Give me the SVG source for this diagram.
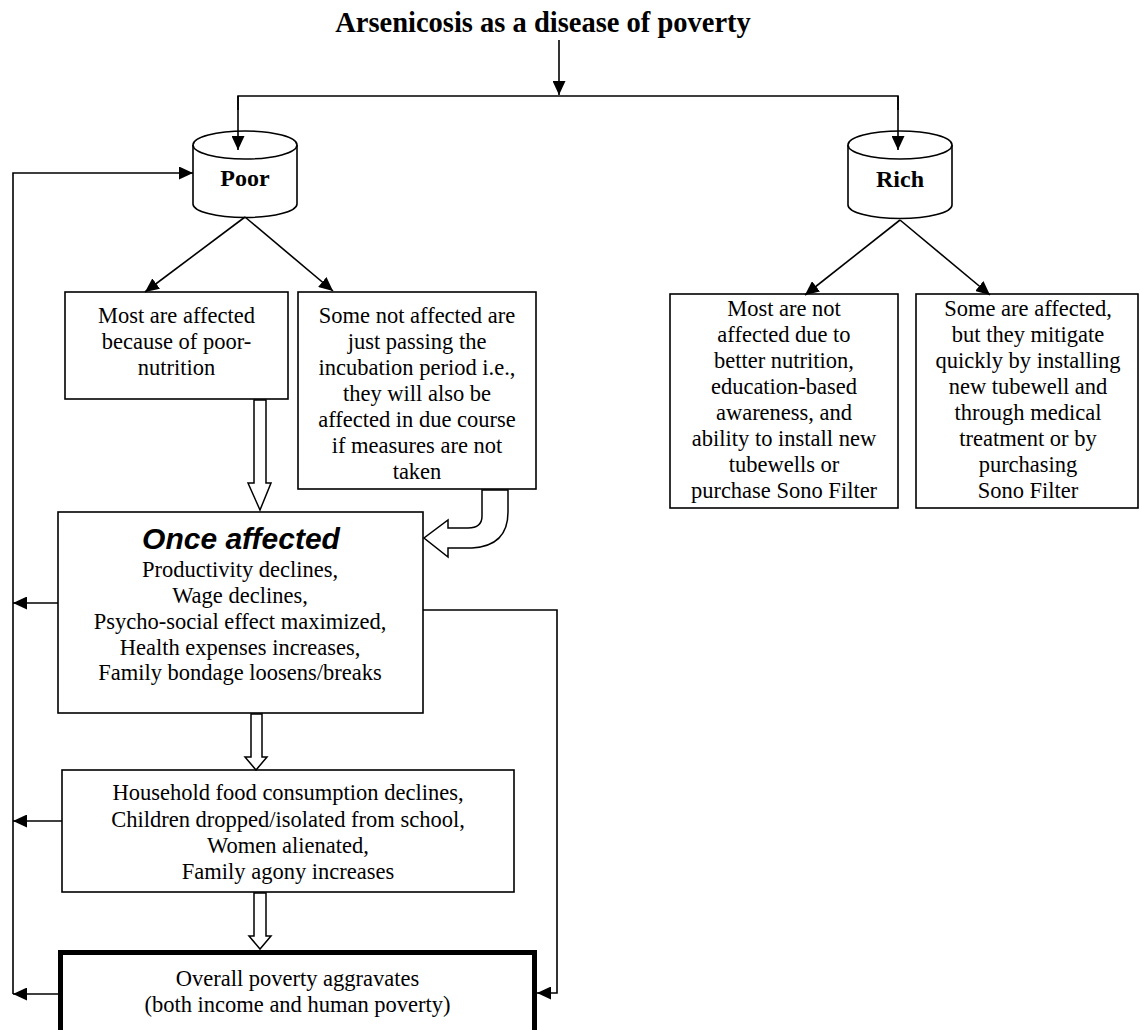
<svg xmlns="http://www.w3.org/2000/svg" width="1140" height="1030" viewBox="0 0 1140 1030">
<style>
.box{fill:#fff;stroke:#000;stroke-width:1.6}
.thick{fill:#fff;stroke:#000;stroke-width:5}
.ln{fill:none;stroke:#000;stroke-width:1.6}
.hollow{fill:#fff;stroke:#000;stroke-width:1.5;stroke-linejoin:miter}
.t{font-family:"Liberation Serif","Times New Roman",serif;font-size:22.5px;fill:#000;text-anchor:middle}
.b{font-family:"Liberation Serif","Times New Roman",serif;font-weight:bold;font-size:24px;fill:#000;text-anchor:middle}
.title{font-family:"Liberation Serif","Times New Roman",serif;font-weight:bold;font-size:28.5px;fill:#000;text-anchor:middle}
.h{font-family:"Liberation Sans",Arial,sans-serif;font-weight:bold;font-style:italic;font-size:30px;fill:#000;text-anchor:middle}
</style>
<defs>
<marker id="ah" markerUnits="userSpaceOnUse" markerWidth="15" markerHeight="13" refX="14" refY="6.5" orient="auto" viewBox="0 0 15 13">
<path d="M0,0 L14,6.5 L0,13 Z" fill="#000"/>
</marker>
</defs>
<rect width="1140" height="1030" fill="#fff"/>

<g id="title">
<text class="title" x="543" y="32">Arsenicosis as a disease of poverty</text>
</g>

<g id="poor">
<path class="box" d="M193,145 L193,204 A52,13.5 0 0 0 297,204 L297,145"/>
<ellipse class="box" cx="245" cy="145" rx="52" ry="14"/>
<text class="b" x="245" y="186">Poor</text>
</g>

<g id="rich">
<path class="box" d="M848,145 L848,205 A52,13.5 0 0 0 952,205 L952,145"/>
<ellipse class="box" cx="900" cy="145" rx="52" ry="14"/>
<text class="b" x="900" y="187">Rich</text>
</g>

<g id="most-affected">
<rect class="box" x="65" y="292" width="223" height="107"/>
<text class="t" x="176.5" y="323">Most are affected</text>
<text class="t" x="176.5" y="349">because of poor-</text>
<text class="t" x="176.5" y="375">nutrition</text>
</g>

<g id="some-not-affected">
<rect class="box" x="298" y="292" width="238" height="197"/>
<text class="t" x="417" y="323">Some not affected are</text>
<text class="t" x="417" y="349">just passing the</text>
<text class="t" x="417" y="375">incubation period i.e.,</text>
<text class="t" x="417" y="401">they will also be</text>
<text class="t" x="417" y="427">affected in due course</text>
<text class="t" x="417" y="453">if measures are not</text>
<text class="t" x="417" y="479">taken</text>
</g>

<g id="rich-most">
<rect class="box" x="670" y="294" width="228" height="214"/>
<text class="t" x="784" y="316">Most are not</text>
<text class="t" x="784" y="342">affected due to</text>
<text class="t" x="784" y="368">better nutrition,</text>
<text class="t" x="784" y="394">education-based</text>
<text class="t" x="784" y="420">awareness, and</text>
<text class="t" x="784" y="446">ability to install new</text>
<text class="t" x="784" y="472">tubewells or</text>
<text class="t" x="784" y="498">purchase Sono Filter</text>
</g>

<g id="rich-some">
<rect class="box" x="916" y="294" width="222" height="214"/>
<text class="t" x="1028" y="316">Some are affected,</text>
<text class="t" x="1028" y="342">but they mitigate</text>
<text class="t" x="1028" y="368">quickly by installing</text>
<text class="t" x="1028" y="394">new tubewell and</text>
<text class="t" x="1028" y="420">through medical</text>
<text class="t" x="1028" y="446">treatment or by</text>
<text class="t" x="1028" y="472">purchasing</text>
<text class="t" x="1028" y="498">Sono Filter</text>
</g>

<g id="once-affected">
<rect class="box" x="58" y="512" width="365" height="201"/>
<text class="h" x="241" y="549">Once affected</text>
<text class="t" x="240" y="577">Productivity declines,</text>
<text class="t" x="240" y="603">Wage declines,</text>
<text class="t" x="240" y="629">Psycho-social effect maximized,</text>
<text class="t" x="240" y="655">Health expenses increases,</text>
<text class="t" x="240" y="680">Family bondage loosens/breaks</text>
</g>

<g id="household">
<rect class="box" x="62" y="770" width="452" height="122"/>
<text class="t" x="288" y="800">Household food consumption declines,</text>
<text class="t" x="288" y="827">Children dropped/isolated from school,</text>
<text class="t" x="288" y="853">Women alienated,</text>
<text class="t" x="288" y="879">Family agony increases</text>
</g>

<g id="poverty">
<rect class="thick" x="60.5" y="952.5" width="474" height="90"/>
<text class="t" x="297.5" y="986">Overall poverty aggravates</text>
<text class="t" x="297.5" y="1012">(both income and human poverty)</text>
</g>

<g id="connectors">
<line class="ln" x1="559" y1="40" x2="559" y2="95" marker-end="url(#ah)"/>
<polyline class="ln" points="238,110 238,96 898,96 898,110"/>
<line class="ln" x1="238" y1="96" x2="238" y2="150" marker-end="url(#ah)"/>
<line class="ln" x1="898" y1="96" x2="898" y2="150" marker-end="url(#ah)"/>
<line class="ln" x1="245" y1="217" x2="145" y2="292" marker-end="url(#ah)"/>
<line class="ln" x1="245" y1="217" x2="333" y2="291" marker-end="url(#ah)"/>
<line class="ln" x1="900" y1="220" x2="805" y2="295" marker-end="url(#ah)"/>
<line class="ln" x1="900" y1="220" x2="990" y2="295" marker-end="url(#ah)"/>
<polyline class="ln" points="13,994 13,173 193,173" marker-end="url(#ah)"/>
<line class="ln" x1="58" y1="603" x2="13" y2="603" marker-end="url(#ah)"/>
<line class="ln" x1="62" y1="821" x2="13" y2="821" marker-end="url(#ah)"/>
<line class="ln" x1="58" y1="994" x2="13" y2="994" marker-end="url(#ah)"/>
<polyline class="ln" points="423,610 557,610 557,993 537,993" marker-end="url(#ah)"/>
<polygon class="hollow" points="254,400 266,400 266,483 271,483 260,510 248,483 254,483"/>
<polygon class="hollow" points="251,714 262,714 262,757 267,757 256,770 245,757 251,757"/>
<polygon class="hollow" points="254,893 266,893 266,936 271,936 260,949 249,936 254,936"/>
<path class="hollow" d="M482,490 L482,516 Q482,528 468,528 L448,528 L448,520 L424,538 L448,557 L448,548 L472,548 Q508,546 508,512 L508,490 Z"/>
</g>
</svg>
